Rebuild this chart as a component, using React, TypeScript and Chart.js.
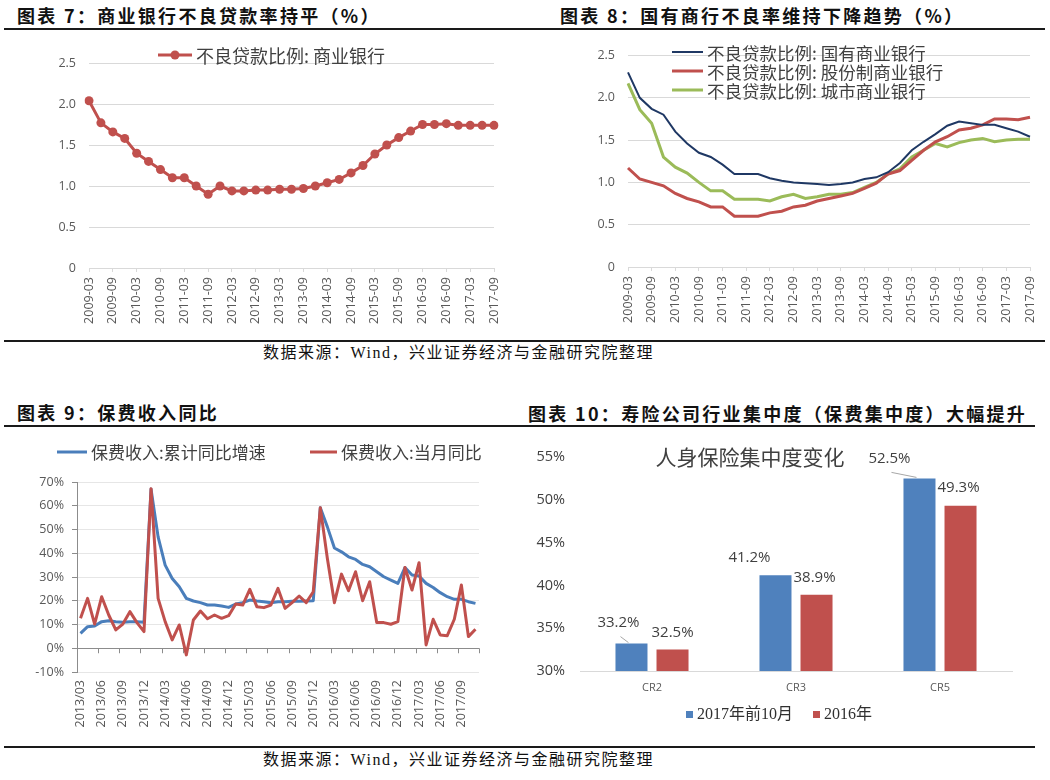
import React, { useEffect, useRef } from "react";
import { Chart, registerables } from "chart.js";

Chart.register(...registerables);

// ---------- data ----------
const quarterLabels = [
  "2009-03", "2009-06", "2009-09", "2009-12", "2010-03", "2010-06", "2010-09", "2010-12",
  "2011-03", "2011-06", "2011-09", "2011-12", "2012-03", "2012-06", "2012-09", "2012-12",
  "2013-03", "2013-06", "2013-09", "2013-12", "2014-03", "2014-06", "2014-09", "2014-12",
  "2015-03", "2015-06", "2015-09", "2015-12", "2016-03", "2016-06", "2016-09", "2016-12",
  "2017-03", "2017-06", "2017-09",
];

const nplCommercial = [
  2.04, 1.77, 1.66, 1.58, 1.4, 1.3, 1.2, 1.1, 1.1, 1.0, 0.9, 1.0,
  0.94, 0.94, 0.95, 0.95, 0.96, 0.96, 0.97, 1.0, 1.04, 1.08, 1.16, 1.25,
  1.39, 1.5, 1.59, 1.67, 1.75, 1.75, 1.76, 1.74, 1.74, 1.74, 1.74,
];

const nplStateOwned = [
  2.3, 2.0, 1.87, 1.8, 1.6, 1.46, 1.35, 1.3, 1.21, 1.1, 1.1, 1.1,
  1.05, 1.02, 1.0, 0.99, 0.98, 0.97, 0.98, 1.0, 1.04, 1.06, 1.12, 1.23,
  1.38, 1.48, 1.57, 1.67, 1.72, 1.7, 1.68, 1.68, 1.64, 1.6, 1.54,
];

const nplJointStock = [
  1.17, 1.04, 1.0, 0.96, 0.87, 0.81, 0.77, 0.71, 0.71, 0.6, 0.6, 0.6,
  0.64, 0.66, 0.71, 0.73, 0.78, 0.81, 0.84, 0.87, 0.93, 0.99, 1.1, 1.14,
  1.26, 1.38, 1.48, 1.54, 1.62, 1.64, 1.68, 1.75, 1.75, 1.74, 1.77,
];

const nplCity = [
  2.17, 1.86, 1.7, 1.3, 1.18, 1.11, 1.0, 0.9, 0.9, 0.8, 0.8, 0.8,
  0.78, 0.83, 0.86, 0.81, 0.83, 0.86, 0.86, 0.88, 0.94, 1.0, 1.1, 1.16,
  1.3, 1.38, 1.46, 1.42, 1.47, 1.5, 1.52, 1.48, 1.5, 1.51, 1.51,
];

const monthLabels = [
  "2013/03", "2013/04", "2013/05", "2013/06", "2013/07", "2013/08", "2013/09", "2013/10", "2013/11", "2013/12",
  "2014/01", "2014/02", "2014/03", "2014/04", "2014/05", "2014/06", "2014/07", "2014/08", "2014/09", "2014/10", "2014/11", "2014/12",
  "2015/01", "2015/02", "2015/03", "2015/04", "2015/05", "2015/06", "2015/07", "2015/08", "2015/09", "2015/10", "2015/11", "2015/12",
  "2016/01", "2016/02", "2016/03", "2016/04", "2016/05", "2016/06", "2016/07", "2016/08", "2016/09", "2016/10", "2016/11", "2016/12",
  "2017/01", "2017/02", "2017/03", "2017/04", "2017/05", "2017/06", "2017/07", "2017/08", "2017/09", "2017/10", "2017/11",
];

const premiumCumulativeYoY = [
  6.3, 9.1, 9.4, 11.2, 11.6, 11.2, 10.9, 11.2, 11.2, 10.9,
  67.0, 46.9, 35.0, 29.4, 25.9, 21.0, 19.9, 19.2, 18.2, 18.2, 17.8, 17.2,
  18.6, 19.2, 20.3, 19.9, 19.6, 19.2, 19.6, 19.6, 19.8, 19.8, 19.9, 20.0,
  59.2, 51.1, 42.2, 40.6, 38.5, 37.4, 35.3, 34.3, 32.2, 30.1, 28.7, 27.3,
  34.0, 30.8, 30.4, 27.3, 25.6, 23.4, 21.7, 20.6, 20.6, 19.6, 18.9,
];

const premiumMonthlyYoY = [
  12.6, 21.0, 10.2, 21.7, 14.0, 7.7, 10.2, 15.4, 10.8, 7.0,
  67.2, 21.0, 11.2, 3.5, 9.8, -2.8, 11.9, 15.7, 12.4, 14.0, 12.6, 13.7,
  18.6, 18.2, 24.8, 17.5, 17.1, 18.2, 25.2, 16.8, 19.2, 22.0, 19.2, 23.8,
  59.2, 37.8, 19.2, 31.2, 24.2, 32.2, 20.0, 28.0, 10.8, 10.8, 10.1, 11.2,
  34.0, 24.5, 36.0, 1.4, 12.2, 5.6, 5.3, 12.2, 26.6, 4.9, 8.0,
];

const crLabels = ["CR2", "CR3", "CR5"];
const cr2017 = [33.2, 41.2, 52.5];
const cr2016 = [32.5, 38.9, 49.3];
const crSeriesNames = ["2017年前10月", "2016年"];

// ---------- style ----------
const RED = "#C0504D";
const NAVY = "#1F3864";
const GREEN = "#9BBB59";
const BLUE = "#4F81BD";
const TICK_FONT = { family: "'Open Sans', 'Liberation Sans', sans-serif", size: 12.5 };
const CJK = "'Noto Sans CJK SC', sans-serif";

// legend drawn with line samples
function lineLegend(id: string, items: any[], font: string) {
  return {
    id,
    afterDraw(chart: any) {
      const ctx = chart.ctx;
      ctx.save();
      items.forEach((it) => {
        const ds = chart.data.datasets[it.ds];
        ctx.strokeStyle = ds.borderColor;
        ctx.lineWidth = ds.borderWidth;
        ctx.lineCap = "butt";
        ctx.beginPath();
        ctx.moveTo(it.x, it.y);
        ctx.lineTo(it.x + it.len, it.y);
        ctx.stroke();
        if (it.marker) {
          ctx.fillStyle = ds.borderColor;
          ctx.beginPath();
          ctx.arc(it.x + it.len / 2, it.y, ds.pointRadius, 0, Math.PI * 2);
          ctx.fill();
        }
        ctx.fillStyle = "#404040";
        ctx.font = font;
        ctx.textAlign = "left";
        ctx.textBaseline = "middle";
        ctx.fillText(ds.label, it.x + it.len + 4, it.y + 1);
      });
      ctx.restore();
    },
  };
}

function everyNth(n: number) {
  return function (this: any, value: any, index: number) {
    return index % n === 0 ? this.getLabelForValue(value) : null;
  };
}

function nplScales(yWidth: number, xHeight: number) {
  return {
    x: {
      afterFit: (s: any) => { s.height = xHeight; },
      grid: { drawOnChartArea: false, color: "#d9d9d9", tickLength: 4 },
      border: { color: "#d9d9d9" },
      ticks: {
        autoSkip: false, minRotation: 90, maxRotation: 90, padding: 5,
        font: TICK_FONT, color: "#595959", callback: everyNth(2),
      },
    },
    y: {
      min: 0, max: 2.5,
      afterFit: (s: any) => { s.width = yWidth; },
      border: { display: false },
      grid: { color: "#d9d9d9", drawTicks: false },
      ticks: { stepSize: 0.5, padding: 13, font: TICK_FONT, color: "#595959" },
    },
  };
}

const config1 = () => ({
  type: "line",
  data: {
    labels: quarterLabels,
    datasets: [{
      label: "不良贷款比例: 商业银行", data: nplCommercial,
      borderColor: RED, backgroundColor: RED, borderWidth: 3,
      pointRadius: 4.5, pointBackgroundColor: RED, pointBorderWidth: 0,
    }],
  },
  options: {
    responsive: false, animation: false,
    layout: { padding: { top: 28, right: 31, left: 0, bottom: 0 } },
    plugins: { legend: { display: false }, tooltip: { enabled: false } },
    scales: nplScales(89, 72),
  },
  plugins: [lineLegend("lg1", [{ ds: 0, x: 158, y: 20, len: 34, marker: true }], `18px ${CJK}`)],
});

const config2 = () => ({
  type: "line",
  data: {
    labels: quarterLabels,
    datasets: [
      { label: "不良贷款比例: 国有商业银行", data: nplStateOwned, borderColor: NAVY, borderWidth: 2, pointRadius: 0 },
      { label: "不良贷款比例: 股份制商业银行", data: nplJointStock, borderColor: RED, borderWidth: 3, pointRadius: 0 },
      { label: "不良贷款比例: 城市商业银行", data: nplCity, borderColor: GREEN, borderWidth: 3, pointRadius: 0 },
    ],
  },
  options: {
    responsive: false, animation: false,
    layout: { padding: { top: 20, right: 15, left: 0, bottom: 0 } },
    plugins: { legend: { display: false }, tooltip: { enabled: false } },
    scales: nplScales(103, 73),
  },
  plugins: [lineLegend("lg2", [
    { ds: 0, x: 147, y: 17, len: 31 },
    { ds: 1, x: 147, y: 36, len: 31 },
    { ds: 2, x: 147, y: 55, len: 31 },
  ], `17.5px ${CJK}`)],
});

const zeroTicks = {
  id: "zeroTicks",
  beforeDatasetsDraw(chart: any) {
    const xs = chart.scales.x;
    const ys = chart.scales.y;
    const y0 = ys.getPixelForValue(0);
    const n = chart.data.labels.length;
    const w = (xs.right - xs.left) / n;
    const ctx = chart.ctx;
    ctx.save();
    ctx.strokeStyle = "#8c8c8c";
    ctx.lineWidth = 1;
    for (let k = 0; k <= n; k += 3) {
      const x = Math.round(xs.left + k * w) + 0.5;
      ctx.beginPath();
      ctx.moveTo(x, y0);
      ctx.lineTo(x, y0 + 5);
      ctx.stroke();
    }
    ctx.restore();
  },
};

const config3 = () => ({
  type: "line",
  data: {
    labels: monthLabels,
    datasets: [
      { label: "保费收入:当月同比", data: premiumMonthlyYoY, borderColor: RED, borderWidth: 3, pointRadius: 0, borderJoinStyle: "round" },
      { label: "保费收入:累计同比增速", data: premiumCumulativeYoY, borderColor: "#4A7EBB", borderWidth: 3, pointRadius: 0, borderJoinStyle: "round" },
    ],
  },
  options: {
    responsive: false, animation: false,
    layout: { padding: { top: 52, right: 41, left: 0, bottom: 0 } },
    plugins: { legend: { display: false }, tooltip: { enabled: false } },
    scales: {
      x: {
        offset: true,
        afterFit: (s: any) => { s.height = 73; },
        grid: { display: false, drawTicks: false },
        border: { display: false },
        ticks: {
          autoSkip: false, minRotation: 90, maxRotation: 90, padding: 8,
          font: TICK_FONT, color: "#595959", callback: everyNth(3),
        },
      },
      y: {
        min: -10, max: 70,
        afterFit: (s: any) => { s.width = 77; },
        border: { display: true, color: "#8c8c8c" },
        grid: {
          color: (c: any) => (c.tick && c.tick.value === 0 ? "#8c8c8c" : "#e6e6e6"),
          tickColor: "#8c8c8c", tickLength: 5,
        },
        ticks: { stepSize: 10, padding: 8, font: TICK_FONT, color: "#595959", callback: (v: any) => v + "%" },
      },
    },
  },
  plugins: [zeroTicks, lineLegend("lg3", [
    { ds: 1, x: 57, y: 22, len: 30 },
    { ds: 0, x: 310, y: 22, len: 27 },
  ], `17px ${CJK}`)],
});

const labelShift = [
  [[-13, -21], [-26, -17], [-30, -20]],
  [[0, -17], [-2, -17], [-2, -18]],
];
const leaderLine = [[true, false, true], [false, false, false]];
const legendX = [166, 293];

const barDecor = {
  id: "barDecor",
  afterDraw(chart: any) {
    const ctx = chart.ctx;
    ctx.save();
    // data labels
    chart.data.datasets.forEach((ds: any, d: number) => {
      const meta = chart.getDatasetMeta(d);
      meta.data.forEach((bar: any, i: number) => {
        const [dx, dy] = labelShift[d][i];
        const lx = bar.x + dx;
        const ly = bar.y + dy;
        if (leaderLine[d][i]) {
          ctx.strokeStyle = "#a6a6a6";
          ctx.lineWidth = 1;
          ctx.beginPath();
          ctx.moveTo(lx + 2, ly + 14);
          ctx.lineTo(bar.x - 3, bar.y - 1);
          ctx.stroke();
        }
        ctx.fillStyle = "#404040";
        ctx.font = "15px 'Open Sans', 'Liberation Sans', sans-serif";
        ctx.textAlign = "center";
        ctx.textBaseline = "middle";
        ctx.fillText(ds.data[i].toFixed(1) + "%", lx, ly);
      });
    });
    // title
    ctx.fillStyle = "#404040";
    ctx.font = `21px ${CJK}`;
    ctx.textAlign = "center";
    ctx.textBaseline = "middle";
    ctx.fillText("人身保险集中度变化", 230, 27);
    // legend
    chart.data.datasets.forEach((ds: any, d: number) => {
      ctx.fillStyle = ds.backgroundColor;
      ctx.fillRect(legendX[d], 281, 7, 7);
      ctx.fillStyle = "#303030";
      ctx.font = "16px 'Liberation Serif', 'Noto Sans CJK SC', serif";
      ctx.textAlign = "left";
      ctx.textBaseline = "middle";
      ctx.fillText(ds.label, legendX[d] + 11, 285);
    });
    ctx.restore();
  },
};

const config4 = () => ({
  type: "bar",
  data: {
    labels: crLabels,
    datasets: [
      { label: crSeriesNames[0], data: cr2017, backgroundColor: BLUE, categoryPercentage: 0.57, barPercentage: 0.78 },
      { label: crSeriesNames[1], data: cr2016, backgroundColor: RED, categoryPercentage: 0.57, barPercentage: 0.78 },
    ],
  },
  options: {
    responsive: false, animation: false,
    layout: { padding: { top: 27, right: 38, left: 0, bottom: 0 } },
    plugins: { legend: { display: false }, tooltip: { enabled: false } },
    scales: {
      x: {
        afterFit: (s: any) => { s.height = 74; },
        grid: { display: false, drawTicks: false },
        border: { display: true, color: "#d9d9d9" },
        ticks: { padding: 10, font: { family: TICK_FONT.family, size: 11 }, color: "#595959" },
      },
      y: {
        min: 30, max: 55,
        afterFit: (s: any) => { s.width = 60; },
        grid: { display: false, drawTicks: false },
        border: { display: false },
        ticks: { stepSize: 5, padding: 15, font: { family: TICK_FONT.family, size: 14.5 }, color: "#404040", callback: (v: any) => v + "%" },
      },
    },
  },
  plugins: [barDecor],
});

function ChartBox(props: { left: number; top: number; width: number; height: number; make: () => any }) {
  const ref = useRef<HTMLCanvasElement>(null);
  useEffect(() => {
    const chart = new Chart(ref.current as HTMLCanvasElement, props.make() as any);
    return () => chart.destroy();
  }, []);
  return (
    <canvas
      ref={ref}
      width={props.width}
      height={props.height}
      style={{ position: "absolute", left: props.left, top: props.top, width: props.width, height: props.height }}
    />
  );
}

const titleStyle: any = {
  position: "absolute",
  fontFamily: CJK,
  fontWeight: 700,
  fontSize: 18,
  letterSpacing: 2.3,
  lineHeight: "20px",
  color: "#111",
  whiteSpace: "nowrap",
};

const sourceStyle: any = {
  position: "absolute",
  fontFamily: "'Liberation Serif', 'Noto Sans CJK SC', serif",
  fontSize: 16,
  letterSpacing: 1.5,
  lineHeight: "20px",
  color: "#111",
  whiteSpace: "nowrap",
};

function Rule(props: { top: number; left: number; width: number }) {
  return <div style={{ position: "absolute", top: props.top, left: props.left, width: props.width, height: 2, background: "#1a1a1a" }} />;
}

export default function App() {
  return (
    <div style={{ position: "absolute", left: 0, top: 0, width: 1050, height: 780, background: "#fff", overflow: "hidden" }}>
      <div style={{ ...titleStyle, left: 17, top: 5 }}>图表 7：商业银行不良贷款率持平（%）</div>
      <div style={{ ...titleStyle, left: 560, top: 5 }}>图表 8：国有商行不良率维持下降趋势（%）</div>
      <Rule top={28} left={4} width={1041} />
      <ChartBox left={0} top={35} width={525} height={305} make={config1} />
      <ChartBox left={525} top={35} width={525} height={305} make={config2} />
      <Rule top={340} left={4} width={1041} />
      <div style={{ ...sourceStyle, left: 263, top: 343 }}>数据来源：Wind，兴业证券经济与金融研究院整理</div>

      <div style={{ ...titleStyle, left: 17, top: 402 }}>图表 9：保费收入同比</div>
      <div style={{ ...titleStyle, left: 528, top: 403 }}>图表 10：寿险公司行业集中度（保费集中度）大幅提升</div>
      <Rule top={425} left={4} width={1031} />
      <ChartBox left={0} top={430} width={520} height={315} make={config3} />
      <ChartBox left={520} top={430} width={530} height={315} make={config4} />
      <Rule top={746} left={4} width={1031} />
      <div style={{ ...sourceStyle, left: 263, top: 750 }}>数据来源：Wind，兴业证券经济与金融研究院整理</div>
    </div>
  );
}
